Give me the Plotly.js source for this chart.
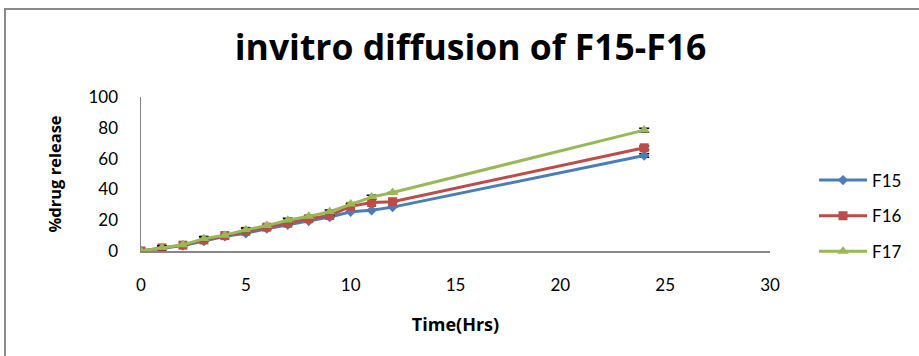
<!DOCTYPE html>
<html>
<head>
<meta charset="utf-8">
<script src="https://cdn.plot.ly/plotly-3.0.1.min.js"></script>
<style>
  html, body { margin: 0; padding: 0; background: #fff; overflow: hidden; }
  #frame { position: absolute; left: 4px; top: 8px; width: 1000px; height: 400px;
           border-left: 2px solid #8a8a8a; border-top: 2px solid #8a8a8a; }
  #chart { position: absolute; left: 0; top: 0; width: 919px; height: 356px; }
</style>
</head>
<body>
<div id="frame"></div>
<div id="chart"></div>
<script>
// Sampling times (hours)
const timeHrs = [0, 1, 2, 3, 4, 5, 6, 7, 8, 9, 10, 11, 12, 24];

// Cumulative % drug release per formulation
const f15 = [0, 1.8, 3.6, 6.5, 9.5, 11.5, 14.5, 17, 19.5, 22, 25.5, 26.5, 28.5, 62];
const f16 = [0, 2.0, 3.8, 7.2, 10, 12.8, 15.5, 18, 21, 23, 29, 31.5, 32, 67];
const f17 = [0, 2.2, 4.0, 8.0, 10.3, 13.7, 16.5, 20, 22.5, 25.5, 30.5, 35, 38, 78.5];

// Standard deviations
const f15Err = [0, 0, 0, 0, 0, 0, 0, 0, 0, 0, 0, 0, 0, 1.2];
const f16Err = [0, 0, 0, 0, 0, 0, 0, 0, 0, 0, 0, 0, 0, 1.2];
const f17Err = [0, 1.2, 0, 1.2, 0, 1.2, 0, 1.2, 0, 1.2, 0, 1.2, 0, 1.2];

const seriesNames = ['F15', 'F16', 'F17'];
const seriesColors = ['#4a7ebb', '#be4b48', '#98b954'];
const seriesSymbols = ['diamond', 'square', 'triangle-up'];
const seriesSizes = [8, 9, 10];
const seriesValues = [f15, f16, f17];
const seriesErrors = [f15Err, f16Err, f17Err];

const font = 'Lato, "Open Sans", sans-serif';
const boldFont = '"Open Sans", Lato, sans-serif';

const traces = seriesNames.map((name, i) => ({
  type: 'scatter',
  mode: 'lines+markers',
  name: name,
  legendgroup: name,
  x: timeHrs,
  y: seriesValues[i],
  line: { color: seriesColors[i], width: 3 },
  marker: { color: seriesColors[i], symbol: seriesSymbols[i], size: seriesSizes[i] },
  error_y: { type: 'data', array: seriesErrors[i], visible: true,
             color: '#000', thickness: 1.5, width: 5 }
}));

const layout = {
  width: 919,
  height: 356,
  paper_bgcolor: 'rgba(0,0,0,0)',
  plot_bgcolor: 'rgba(0,0,0,0)',
  margin: { l: 141, r: 149, t: 97, b: 105 },
  showlegend: true,
  title: {
    text: '<b>invitro diffusion of F15-F16</b>',
    font: { family: boldFont, size: 35.5, color: '#000' },
    x: 0.512, xanchor: 'center', y: 0.865, yanchor: 'middle'
  },
  xaxis: {
    range: [0, 30],
    tickvals: [0, 5, 10, 15, 20, 25, 30],
    showgrid: false, zeroline: false,
    showline: true, linecolor: '#868686', linewidth: 1.5,
    ticks: '', ticklen: 0, ticklabelstandoff: 18,
    tickfont: { family: font, size: 17, color: '#000' },
    title: { text: '<b>Time(Hrs)</b>', font: { family: boldFont, size: 18, color: '#000' }, standoff: 24 }
  },
  yaxis: {
    range: [0, 100],
    tickvals: [0, 20, 40, 60, 80, 100],
    showgrid: false, zeroline: false,
    showline: true, linecolor: '#868686', linewidth: 1.5,
    ticks: '', ticklen: 0, ticklabelstandoff: 18,
    tickfont: { family: font, size: 17, color: '#000' },
    title: { text: '<b>%drug release</b>', font: { family: boldFont, size: 16.5, color: '#000' }, standoff: 22 }
  },
  legend: {
    x: 1.07, xanchor: 'left', y: 0.227, yanchor: 'middle',
    font: { family: font, size: 17, color: '#000' },
    traceorder: 'grouped', tracegroupgap: 10.5,
    itemwidth: 48, bgcolor: 'rgba(0,0,0,0)'
  }
};

Plotly.newPlot('chart', traces, layout, { displayModeBar: false, staticPlot: true });
</script>
</body>
</html>
